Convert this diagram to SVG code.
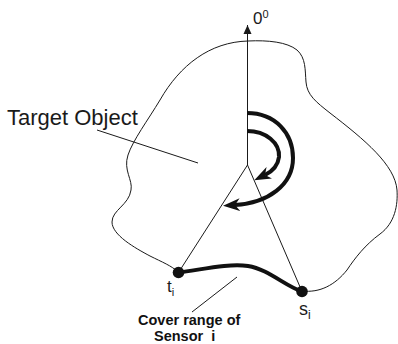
<svg xmlns="http://www.w3.org/2000/svg" width="398" height="344" viewBox="0 0 398 344">
  <style>
    .thin { fill: none; stroke: #1a1a1a; stroke-width: 1; }
    .thick { fill: none; stroke: #111; stroke-width: 4; stroke-linecap: butt; }
    .lbl { font-family: "Liberation Sans", Arial, sans-serif; fill: #1a1a1a; }
    .bold { font-family: "Liberation Sans", Arial, sans-serif; font-weight: bold; fill: #111; }
  </style>
  <defs>
    <marker id="head" markerUnits="userSpaceOnUse" markerWidth="18" markerHeight="14" viewBox="0 -7 18 14" refX="5" refY="0" orient="auto">
      <path d="M0,-6.5 L17,0 L0,6.5 L5,0 Z" fill="#111"/>
    </marker>
    <marker id="axhead" markerUnits="userSpaceOnUse" markerWidth="10" markerHeight="10" viewBox="0 -5 10 10" refX="9" refY="0" orient="auto">
      <path d="M0,-4 L9,0 L0,4 Z" fill="#1a1a1a"/>
    </marker>
  </defs>

  <g id="target-object">
    <path class="thin" d="M302,291 C320,293 335,285 347,270 C355,258 365,245 380,234 C395,223 398,205 397,190 C395,165 365,140 330,113 C316,102 307,95 306,82 C305,70 306,58 297,50 C287,42 268,40 248,41 C210,42 180,65 160,100 C148,120 133,140 128,155 C123,170 133,180 131,190 C129,205 112,210 112,222 C112,235 135,248 150,256 C162,262 172,266 178,272"/>
    <text class="lbl" x="7" y="125" font-size="22">Target Object</text>
  </g>

  <g id="axis">
    <line class="thin" x1="247.5" y1="165" x2="247.5" y2="25" marker-end="url(#axhead)"/>
    <text class="lbl" x="253" y="24" font-size="17">0<tspan font-size="11" dy="-6">0</tspan></text>
  </g>

  <g id="connectors">
    <line class="thin" x1="97" y1="130" x2="198" y2="163"/>
    <line class="thin" x1="247.5" y1="165" x2="178.5" y2="272.5"/>
    <line class="thin" x1="247.5" y1="165" x2="302" y2="291.5"/>
    <line class="thin" x1="192" y1="312" x2="237" y2="277"/>
    <path class="thick" d="M247,131 C266,131 280,143 279,157 C278,165 273,171 265,175" marker-end="url(#head)"/>
    <path class="thick" d="M247,113 C275,113 293,133 293,158 C293,185 268,203 235,205" marker-end="url(#head)"/>
  </g>

  <g id="cover-range">
    <path class="thick" d="M178.5,272.5 C200,270 228,263 248,266 C268,269 285,286 302,291.5"/>
  </g>

  <g id="node-ti">
    <circle cx="178.5" cy="272.5" r="5.8" fill="#111"/>
    <text class="lbl" x="167" y="292" font-size="17">t<tspan font-size="11" dy="4">i</tspan></text>
  </g>

  <g id="node-si">
    <circle cx="302" cy="291.5" r="5.8" fill="#111"/>
    <text class="lbl" x="299" y="315" font-size="18">s<tspan font-size="12" dy="4">i</tspan></text>
  </g>

  <g id="cover-label">
    <text class="bold" x="138" y="325" font-size="14.5">Cover range of</text>
    <text class="bold" x="154" y="341" font-size="14.5" xml:space="preserve">Sensor  i</text>
  </g>
</svg>
